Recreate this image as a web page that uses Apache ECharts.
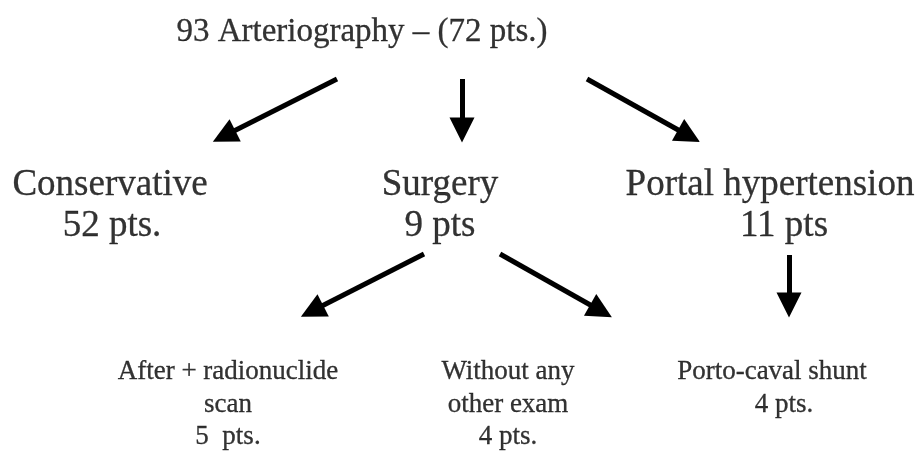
<!DOCTYPE html>
<html>
<head>
<meta charset="utf-8">
<script src="https://cdn.jsdelivr.net/npm/echarts@6/dist/echarts.min.js"></script>
<style>
  html, body { margin: 0; padding: 0; background: #fff; }
  #chart { width: 917px; height: 454px; }
</style>
</head>
<body>
<div id="chart"></div>
<script>
// box texts, one line each, in picture pixels
const labels = [
  '93 Arteriography – (72 pts.)',
  'Conservative', '52 pts.',
  'Surgery', '9 pts',
  'Portal hypertension', '11 pts',
  'After + radionuclide', 'scan', '5  pts.',
  'Without any', 'other exam', '4 pts.',
  'Porto-caval shunt', '4 pts.'
]
const labelX = [362, 110, 112, 440, 440, 770, 784, 228, 228, 228, 508, 508, 508, 772, 784]
const labelY = [32, 185, 226, 185, 226, 185, 226, 372, 405, 437, 372, 405, 437, 372, 405]
const labelLevel = [0, 1, 1, 1, 1, 1, 1, 2, 2, 2, 2, 2, 2, 2, 2]

// arrows: tail -> head centre
const arrowFrom = [[337, 79], [462, 79], [587, 79], [424, 254], [500, 254], [789, 255]]
const arrowTo = [[224, 136], [462, 130], [689, 136], [312, 311], [601, 311], [789, 305]]

const fontSizes = [33, 37, 27]

const chart = echarts.init(document.getElementById('chart'))

chart.setOption({
  backgroundColor: '#fff',
  animation: false,
  grid: { left: 0, right: 0, top: 0, bottom: 0 },
  xAxis: { type: 'value', min: 0, max: 917, show: false },
  yAxis: { type: 'value', min: 0, max: 454, inverse: true, show: false },
  series: [
    {
      type: 'lines',
      coordinateSystem: 'cartesian2d',
      symbol: ['none', 'triangle'],
      symbolSize: [27, 25],
      lineStyle: { color: '#000', width: 5, opacity: 1 },
      data: arrowFrom.map((p, i) => ({ coords: [p, arrowTo[i]] })),
    },
    {
      type: 'scatter',
      symbolSize: 1,
      itemStyle: { color: 'transparent' },
      silent: true,
      data: labels.map((t, i) => ({
        value: [labelX[i], labelY[i]],
        label: {
          show: true,
          position: 'inside',
          formatter: t,
          color: '#000',
          textBorderColor: '#000',
          textBorderWidth: 0.3,
          fontFamily: 'Liberation Serif',
          fontSize: fontSizes[labelLevel[i]],
        },
      })),
    },
  ],
})
</script>
</body>
</html>
